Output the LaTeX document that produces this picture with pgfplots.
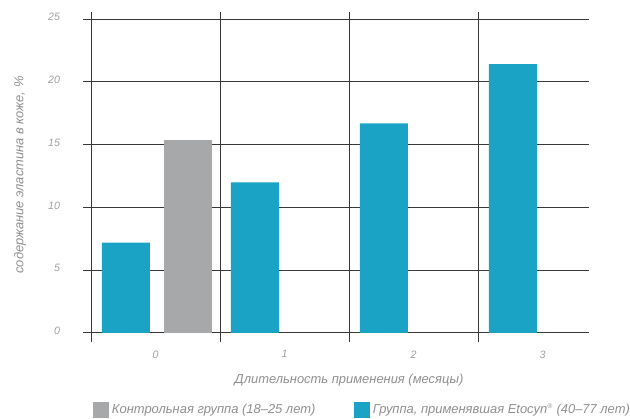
\documentclass[border=0pt]{standalone}
\usepackage{pgfplots}
\pgfplotsset{compat=1.18}
\usepackage{fontspec}
\setmainfont{Liberation Sans}
\definecolor{barblue}{HTML}{1AA3C4}
\definecolor{bargray}{HTML}{A7A8AA}
\definecolor{gridc}{HTML}{383838}
\definecolor{txt}{HTML}{8F8F8F}
\definecolor{ticktxt}{HTML}{A0A0A0}
\newcommand{\lblfont}{\fontsize{9.7}{11}\selectfont\itshape}
\newcommand{\tickfont}{\fontsize{8}{9}\selectfont\itshape}
\begin{document}
\begin{tikzpicture}
\begin{axis}[
  at={(62.25pt,57pt)}, anchor=south west,
  scale only axis, width=379.5pt, height=247.5pt,
  xmin=-0.562, xmax=3.36, ymin=-0.72, ymax=25.56,
  axis line style={draw=none},
  ybar, bar width=0.372,
  ytick={0,5,10,15,20,25},
  xtick={0,1,2,3},
  xticklabels={0,1,2,3},
  extra x ticks={-0.5,0.5,1.5,2.5},
  extra x tick labels={},
  extra x tick style={xmajorgrids=true},
  ymajorgrids=true,
  major grid style={draw=gridc, line width=0.7pt},
  tick style={draw=none},
  /pgf/number format/assume math mode=true,
  yticklabel style={font=\tickfont, text=ticktxt, anchor=east, inner sep=0pt, xshift=-17pt, yshift=1.5pt},
  xticklabel style={font=\tickfont, text=ticktxt, anchor=north, inner sep=0pt, yshift=-2pt},
  legend style={at={(0.0198,-0.206)}, anchor=west, draw=none, fill=none, inner sep=0pt,
    font=\lblfont, text=txt, legend columns=2,
    /tikz/every even column/.append style={column sep=27pt}},
  legend cell align=left,
  legend image code/.code={\path[#1] (0pt,-6pt) rectangle (12pt,6pt);},
]
\addplot[fill=bargray, draw=none, bar shift=0.25] coordinates {(0,15.4)};
\addplot[fill=barblue, draw=none, bar shift=-0.23] coordinates {(0,7.2) (1,12.0) (2,16.7) (3,21.4)};
\legend{Контрольная группа (18–25 лет), Группа{,} применявшая Etocyn\textsuperscript{\tiny ®} (40–77 лет)}
\end{axis}
\node[font=\lblfont, text=txt] at (261.75pt,28.5pt) {Длительность применения (месяцы)};
\node[font=\lblfont, text=txt, rotate=90] at (15pt,182.25pt) {содержание эластина в коже, \%};
\pgfresetboundingbox
\path (0pt,0pt) rectangle (472.5pt,313.5pt);
\end{tikzpicture}
\end{document}
